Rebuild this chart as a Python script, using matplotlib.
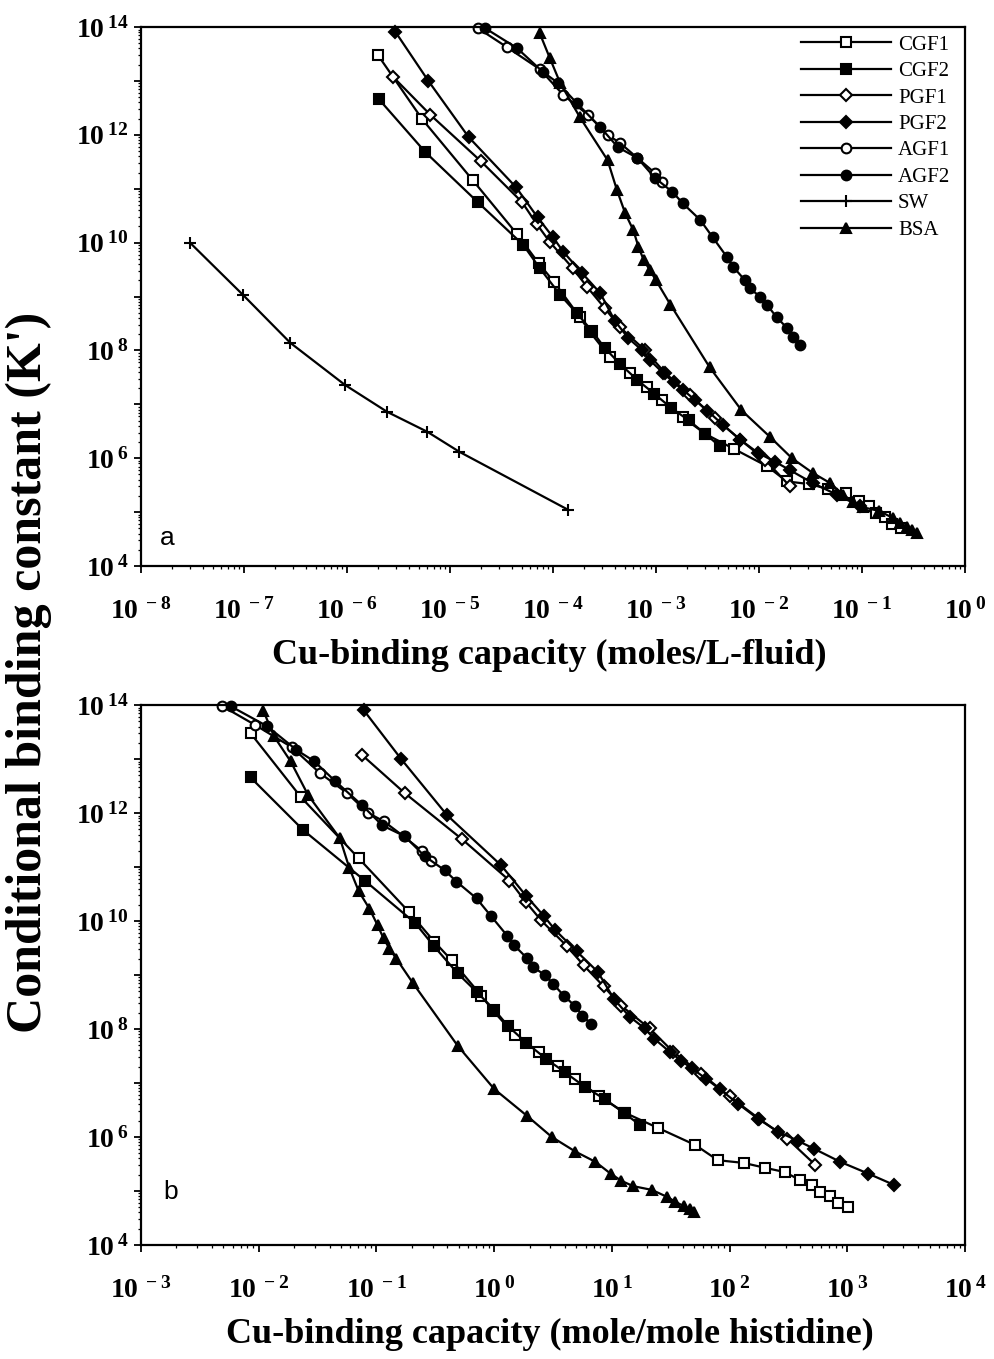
import numpy as np
import matplotlib
matplotlib.use("Agg")
import matplotlib.pyplot as plt
from matplotlib.ticker import LogLocator, FuncFormatter, NullFormatter

# ---- data (log10 values) ----
# K' = conditional binding constant, xa = moles/L-fluid, xb = mole/mole histidine
cgf1_k = [13.48, 12.29, 11.16, 10.16, 9.62, 9.27, 8.62, 8.34, 7.88, 7.58, 7.32, 7.08, 6.76,
          6.45, 6.17, 5.85, 5.57, 5.52, 5.43, 5.35, 5.20, 5.11, 4.98, 4.91, 4.78, 4.70]
cgf1_xa = [-5.70, -5.27, -4.78, -4.35, -4.14, -3.99, -3.74, -3.64, -3.45, -3.25, -3.09, -2.94, -2.74,
           -2.52, -2.24, -1.92, -1.73, -1.51, -1.33, -1.16, -1.03, -0.93, -0.86, -0.78, -0.71, -0.62]
cgf1_xb = [-2.07, -1.64, -1.15, -0.72, -0.51, -0.36, -0.11, -0.01, 0.18, 0.38, 0.54, 0.69, 0.89,
           1.11, 1.39, 1.71, 1.90, 2.12, 2.30, 2.47, 2.60, 2.70, 2.77, 2.85, 2.92, 3.01]

cgf2_k = [12.66, 11.68, 10.75, 9.96, 9.53, 9.03, 8.69, 8.36, 8.05, 7.75, 7.45, 7.20, 6.93, 6.70, 6.45, 6.22]
cgf2_xa = [-5.69, -5.24, -4.73, -4.29, -4.13, -3.93, -3.77, -3.62, -3.50, -3.35, -3.18, -3.02, -2.85,
           -2.68, -2.52, -2.38]
cgf2_xb = [-2.07, -1.62, -1.10, -0.67, -0.51, -0.31, -0.15, 0.00, 0.12, 0.27, 0.44, 0.60, 0.77,
           0.94, 1.10, 1.24]

pgf1_k = [13.07, 12.37, 11.51, 10.75, 10.35, 10.01, 9.53, 9.18, 8.79, 8.43, 8.01, 7.58, 7.17,
          6.75, 6.34, 5.97, 5.48]
pgf1_xa = [-5.55, -5.19, -4.70, -4.30, -4.16, -4.03, -3.81, -3.67, -3.50, -3.35, -3.11, -2.91, -2.67,
           -2.43, -2.18, -1.94, -1.70]
pgf1_xb = [-1.12, -0.76, -0.27, 0.13, 0.27, 0.40, 0.62, 0.76, 0.93, 1.08, 1.32, 1.52, 1.76,
           2.00, 2.25, 2.49, 2.73]

pgf2_k = [13.91, 13.00, 11.96, 11.03, 10.47, 10.10, 9.83, 9.44, 9.06, 8.55, 8.23, 8.01, 7.82,
          7.58, 7.41, 7.27, 7.08, 6.88, 6.62, 6.34, 6.10, 5.93, 5.78, 5.54, 5.32, 5.11]
pgf2_xa = [-5.53, -5.21, -4.82, -4.36, -4.15, -4.00, -3.90, -3.72, -3.54, -3.40, -3.27, -3.14, -3.06,
           -2.93, -2.83, -2.74, -2.62, -2.50, -2.35, -2.18, -2.01, -1.84, -1.70, -1.48, -1.24, -1.02]
pgf2_xb = [-1.11, -0.79, -0.40, 0.06, 0.27, 0.42, 0.52, 0.70, 0.88, 1.02, 1.15, 1.28, 1.36,
           1.49, 1.59, 1.68, 1.80, 1.92, 2.07, 2.24, 2.41, 2.58, 2.72, 2.94, 3.18, 3.40]

agf1_k = [13.98, 13.63, 13.22, 12.74, 12.37, 12.00, 11.85, 11.57, 11.29, 11.12]
agf1_xa = [-4.73, -4.45, -4.13, -3.90, -3.66, -3.47, -3.35, -3.18, -3.01, -2.94]
agf1_xb = [-2.31, -2.03, -1.72, -1.48, -1.25, -1.07, -0.94, -0.77, -0.61, -0.54]

agf2_k = [13.98, 13.61, 13.17, 12.96, 12.59, 12.14, 11.77, 11.57, 11.20, 10.94, 10.73, 10.42,
          10.10, 9.73, 9.55, 9.31, 9.15, 9.00, 8.84, 8.62, 8.42, 8.25, 8.10]
agf2_xa = [-4.66, -4.35, -4.10, -3.95, -3.77, -3.54, -3.37, -3.18, -3.01, -2.84, -2.74, -2.57,
           -2.45, -2.31, -2.25, -2.14, -2.09, -1.99, -1.92, -1.83, -1.73, -1.67, -1.60]
agf2_xb = [-2.24, -1.93, -1.68, -1.53, -1.35, -1.12, -0.95, -0.76, -0.59, -0.42, -0.32, -0.15,
           -0.03, 0.11, 0.17, 0.28, 0.33, 0.43, 0.50, 0.59, 0.69, 0.75, 0.82]

sw_k = [9.99, 9.03, 8.14, 7.36, 6.86, 6.49, 6.12, 5.04]
sw_xa = [-7.52, -7.01, -6.55, -6.02, -5.61, -5.22, -4.91, -3.85]

bsa_k = [13.89, 13.42, 12.96, 12.33, 11.53, 10.98, 10.55, 10.23, 9.92, 9.68, 9.49, 9.30, 8.85,
         7.69, 6.89, 6.39, 6.00, 5.73, 5.54, 5.32, 5.19, 5.09, 5.02, 4.89, 4.80, 4.72, 4.66, 4.61]
bsa_xa = [-4.13, -4.03, -3.93, -3.74, -3.47, -3.38, -3.30, -3.22, -3.17, -3.12, -3.06, -3.00, -2.86,
          -2.48, -2.17, -1.89, -1.68, -1.48, -1.31, -1.18, -1.09, -0.99, -0.83, -0.70, -0.63, -0.56,
          -0.51, -0.47]
bsa_xb = [-1.96, -1.87, -1.73, -1.58, -1.31, -1.23, -1.15, -1.06, -0.99, -0.94, -0.89, -0.83, -0.69,
          -0.31, 0.00, 0.28, 0.49, 0.69, 0.86, 0.99, 1.08, 1.18, 1.34, 1.47, 1.54, 1.61, 1.66, 1.70]

# name, marker, filled, size, k, xa, xb
series = [
    ("CGF1", "s", False, 7.5, cgf1_k, cgf1_xa, cgf1_xb),
    ("CGF2", "s", True, 7.5, cgf2_k, cgf2_xa, cgf2_xb),
    ("PGF1", "D", False, 6.0, pgf1_k, pgf1_xa, pgf1_xb),
    ("PGF2", "D", True, 6.0, pgf2_k, pgf2_xa, pgf2_xb),
    ("AGF1", "o", False, 7.0, agf1_k, agf1_xa, agf1_xb),
    ("AGF2", "o", True, 7.0, agf2_k, agf2_xa, agf2_xb),
    ("SW", "+", True, 9.0, sw_k, sw_xa, None),
    ("BSA", "^", True, 7.5, bsa_k, bsa_xa, bsa_xb),
]

plt.rcParams['font.family'] = 'Liberation Serif'
plt.rcParams['font.weight'] = 'bold'
plt.rcParams['mathtext.fontset'] = 'custom'
plt.rcParams['mathtext.rm'] = 'Liberation Serif:bold'
plt.rcParams['mathtext.default'] = 'regular'


def pow_label(v, pos):
    e = int(round(np.log10(v)))
    return r'$10^{\,%d}$' % e


def even_label(v, pos):
    e = int(round(np.log10(v)))
    if e % 2:
        return ''
    return r'$10^{\,%d}$' % e


def style_axis(ax, xlo, xhi):
    ax.set_xscale('log')
    ax.set_yscale('log')
    ax.set_xlim(xlo, xhi)
    ax.set_ylim(1e4, 1e14)
    for a in (ax.xaxis, ax.yaxis):
        a.set_major_locator(LogLocator(base=10, numticks=30))
        a.set_minor_locator(LogLocator(base=10, subs=np.arange(2, 10), numticks=30))
        a.set_minor_formatter(NullFormatter())
    ax.xaxis.set_major_formatter(FuncFormatter(pow_label))
    ax.yaxis.set_major_formatter(FuncFormatter(even_label))
    for s in ax.spines.values():
        s.set_linewidth(1.6)
    ax.tick_params(which='major', direction='out', length=5, width=1.3, labelsize=20)
    ax.tick_params(axis='x', which='major', pad=18)
    ax.tick_params(axis='y', which='major', pad=4)
    ax.tick_params(which='minor', direction='out', length=2.5, width=0.9)


fig = plt.figure(figsize=(9.94, 13.59), dpi=100)
ax_a = fig.add_axes([0.1419, 0.5835, 0.8289, 0.3966])
ax_b = fig.add_axes([0.1419, 0.0839, 0.8289, 0.3973])

for name, mk, filled, ms, k, xa, xb in series:
    face = 'black' if filled else 'white'
    kw = dict(color='black', lw=1.6, marker=mk, ms=ms, mfc=face, mec='black',
              mew=1.5, clip_on=False, label=name)
    ax_a.plot(10.0 ** np.array(xa), 10.0 ** np.array(k), **kw)
    if xb is not None:
        ax_b.plot(10.0 ** np.array(xb), 10.0 ** np.array(k), **kw)

style_axis(ax_a, 1e-8, 1.0)
style_axis(ax_b, 1e-3, 1e4)

ax_a.legend(loc='upper right', bbox_to_anchor=(1.005, 1.02), frameon=False,
            prop={'family': 'Liberation Serif', 'weight': 'normal', 'size': 15},
            handlelength=4.3, handletextpad=0.35, labelspacing=0.33)

ax_a.text(0.023, 0.03, 'a', transform=ax_a.transAxes, family='Liberation Sans',
          weight='normal', fontsize=19, ha='left', va='bottom')
ax_b.text(0.027, 0.075, 'b', transform=ax_b.transAxes, family='Liberation Sans',
          weight='normal', fontsize=19, ha='left', va='bottom')

fig.text(0.5528, 0.518, 'Cu-binding capacity (moles/L-fluid)', ha='center', va='center',
         fontsize=26, weight='bold')
fig.text(0.5528, 0.0177, 'Cu-binding capacity (mole/mole histidine)', ha='center', va='center',
         fontsize=26, weight='bold')
fig.text(0.029, 0.505, "Conditional binding constant (K')", ha='center', va='center',
         rotation=90, fontsize=36, weight='bold')

fig.savefig('out.png', dpi=100)
